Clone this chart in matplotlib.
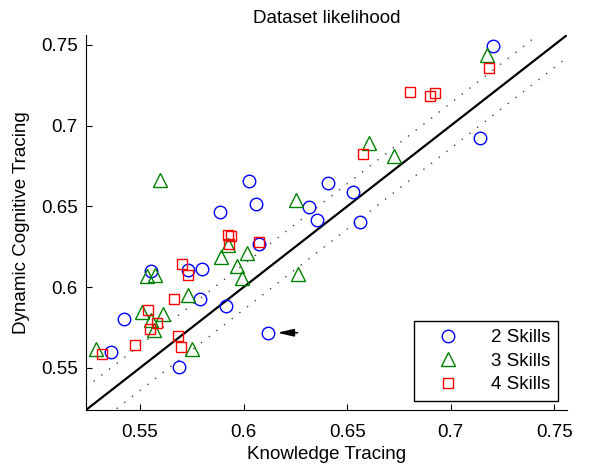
import matplotlib
matplotlib.use('Agg')
import matplotlib.pyplot as plt
import numpy as np

plt.rcParams['font.family'] = ['Liberation Sans', 'DejaVu Sans']

# 2 skills
kt2 = [0.7202, 0.7143, 0.6527, 0.6407, 0.6318, 0.6354, 0.6560, 0.6025, 0.6062, 0.5888,
       0.6074, 0.5555, 0.5734, 0.5798, 0.5790, 0.5917, 0.6120, 0.5421, 0.5363, 0.5688]
dct2 = [0.7490, 0.6922, 0.6591, 0.6646, 0.6496, 0.6414, 0.6403, 0.6659, 0.6517, 0.6465,
        0.6270, 0.6099, 0.6107, 0.6115, 0.5924, 0.5883, 0.5718, 0.5800, 0.5601, 0.5508]

# 3 skills
kt3 = [0.5597, 0.6254, 0.6605, 0.6724, 0.7175, 0.5927, 0.5893, 0.6015, 0.5967, 0.5991,
       0.6265, 0.5532, 0.5572, 0.5730, 0.5511, 0.5610, 0.5553, 0.5568, 0.5287, 0.5753]
dct3 = [0.6665, 0.6541, 0.6895, 0.6810, 0.7438, 0.6259, 0.6187, 0.6212, 0.6130, 0.6054,
        0.6080, 0.6068, 0.6074, 0.5950, 0.5848, 0.5831, 0.5796, 0.5735, 0.5619, 0.5617]

# 4 skills
kt4 = [0.6576, 0.7183, 0.6803, 0.6898, 0.6924, 0.5924, 0.5938, 0.5930, 0.6076, 0.5704,
       0.5732, 0.5666, 0.5537, 0.5584, 0.5550, 0.5476, 0.5315, 0.5685, 0.5698]
dct4 = [0.6825, 0.7354, 0.7210, 0.7181, 0.7204, 0.6325, 0.6319, 0.6270, 0.6280, 0.6146,
        0.6074, 0.5924, 0.5858, 0.5780, 0.5739, 0.5642, 0.5586, 0.5700, 0.5632]

lims = [0.524, 0.756]
band = 0.014
ticks = [0.55, 0.6, 0.65, 0.7, 0.75]
tick_labels = ['0.55', '0.6', '0.65', '0.7', '0.75']

arrow_head = (0.6163, 0.5718)
arrow_tail = (0.6260, 0.5718)

fs = 13.5
fig = plt.figure(figsize=(5.93, 4.68), dpi=100)
ax = fig.add_axes([0.145, 0.124, 0.811, 0.801])

diag = np.array(lims)
ax.plot(diag, diag, color='k', lw=1.6, zorder=1)
ax.plot(diag, diag + band, color='#444444', lw=1.0, linestyle=(0, (1, 6)), zorder=1)
ax.plot(diag, diag - band, color='#444444', lw=1.0, linestyle=(0, (1, 6)), zorder=1)

ax.plot(kt2, dct2, 'o', mfc='none', mec='#0000ff', ms=9, mew=1.0, label='2 Skills', zorder=3)
ax.plot(kt3, dct3, '^', mfc='none', mec='#008000', ms=9.5, mew=1.0, label='3 Skills', zorder=3)
ax.plot(kt4, dct4, 's', mfc='none', mec='#ff0000', ms=7.5, mew=1.0, label='4 Skills', zorder=3)

ax.annotate('', xy=arrow_head, xytext=arrow_tail,
            arrowprops=dict(arrowstyle='-|>,head_length=0.6,head_width=0.14',
                            color='k', lw=1.2, mutation_scale=16,
                            shrinkA=0, shrinkB=0))

ax.set_xlim(lims)
ax.set_ylim(lims)
ax.set_xticks(ticks)
ax.set_xticklabels(tick_labels)
ax.set_yticks(ticks)
ax.set_yticklabels(tick_labels)
ax.tick_params(direction='in', length=4.5, width=0.8, labelsize=fs)
ax.tick_params(axis='x', pad=10)
ax.tick_params(axis='y', pad=6)
ax.spines['top'].set_visible(False)
ax.spines['right'].set_visible(False)

ax.set_title('Dataset likelihood', fontsize=fs, pad=9)
ax.set_xlabel('Knowledge Tracing', fontsize=fs, labelpad=4)
ax.set_ylabel('Dynamic Cognitive Tracing', fontsize=fs, labelpad=8)

leg = ax.legend(loc='lower right', fontsize=fs, frameon=True, fancybox=False,
                edgecolor='k', framealpha=1, handlelength=2.8, handletextpad=0.9,
                labelspacing=0.34, borderpad=0.4, borderaxespad=0.5)
leg.get_frame().set_linewidth(1.0)

fig.savefig('out.png', dpi=100)
